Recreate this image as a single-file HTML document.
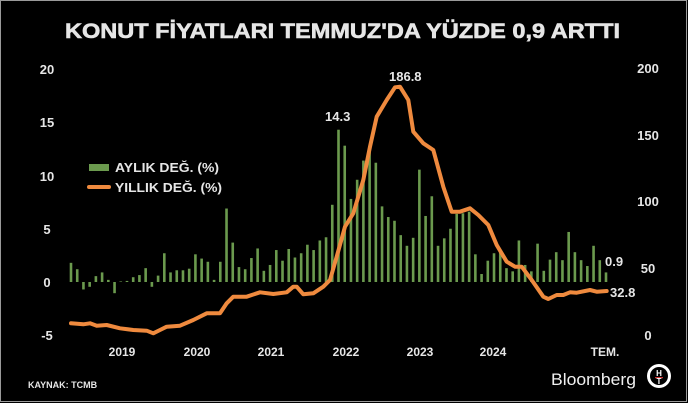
<!DOCTYPE html>
<html><head><meta charset="utf-8"><style>
html,body{margin:0;padding:0;background:#000;}
body{width:688px;height:403px;overflow:hidden;}
svg{display:block;font-family:"Liberation Sans",sans-serif;font-weight:bold;}
</style></head><body>
<svg id="s" width="688" height="403" viewBox="0 0 688 403">
<rect x="0.5" y="0.5" width="686" height="401" fill="#000" stroke="#9a9a9a" stroke-width="1"/>
<text x="65" y="38" font-size="21" fill="#e6e6e6" textLength="555" lengthAdjust="spacingAndGlyphs" stroke="#e6e6e6" stroke-width="0.6">KONUT FİYATLARI TEMMUZ'DA YÜZDE 0,9 ARTTI</text>
<g font-size="13" fill="#e6e6e6" text-anchor="middle">
<text x="47" y="74">20</text><text x="47" y="127">15</text><text x="47" y="181">10</text>
<text x="47" y="234">5</text><text x="47" y="287">0</text><text x="47" y="340">-5</text>
<text x="648" y="73">200</text><text x="648" y="140">150</text><text x="648" y="206">100</text>
<text x="648" y="273">50</text><text x="648" y="340">0</text>
</g>
<g font-size="12" fill="#e6e6e6" text-anchor="middle">
<text x="122" y="356">2019</text><text x="197" y="356">2020</text><text x="271" y="356">2021</text>
<text x="346" y="356">2022</text><text x="420" y="356">2023</text><text x="493" y="356">2024</text>
<text x="605" y="356">TEM.</text>
</g>
<g id="bars" fill="#6b9a4e"></g>
<polyline fill="none" stroke="#ef8a3e" stroke-width="4" stroke-linejoin="round" stroke-linecap="round" points="71,323.3 83.3,324.3 90,323.3 96.7,325.7 106.7,325 120,328.3 133.3,330 146.7,330.7 153.3,333.3 160,330 166.7,326.7 180,325.7 193.3,320 206.7,313.3 220,313.3 226.7,303.3 233.3,296.7 246.7,296.7 260,292.3 273.3,294 286.7,292.3 293.3,286.7 296.7,286.7 303.3,294.3 313.3,293.3 323.3,286.7 330,280 336.7,256.7 345,226.7 353.3,213.3 363.3,180 370,146.7 376.7,116.7 386.7,100 395,87.3 400,86.7 408.3,100 413.3,131.7 423.3,143.3 433.3,150 443.3,186.7 451.7,211.7 460,211.7 470,208.3 478.3,215 488.3,225 496.7,245 506.7,261.7 515,266.7 521.7,266.7 531.7,280 543.3,296.7 548.3,299 556.7,295 563.3,295 570,292.3 576.7,292.7 590,290 596.7,291.7 606.7,291"/>
<g font-size="13" fill="#e6e6e6">
<text x="325" y="121">14.3</text>
<text x="389" y="81">186.8</text>
<text x="605" y="266">0.9</text>
<text x="610" y="297">32.8</text>
</g>
<rect x="89" y="164" width="20" height="7" fill="#6b9a4e"/>
<line x1="89" y1="187" x2="109" y2="187" stroke="#ef8a3e" stroke-width="4" stroke-linecap="round"/>
<g font-size="13" fill="#e6e6e6">
<text x="115" y="172" textLength="104" lengthAdjust="spacingAndGlyphs">AYLIK DEĞ. (%)</text>
<text x="115" y="192" textLength="107" lengthAdjust="spacingAndGlyphs">YILLIK DEĞ. (%)</text>
</g>
<text x="28" y="388" font-size="9" fill="#e6e6e6">KAYNAK: TCMB</text>
<text x="551" y="385" font-size="17" font-weight="normal" fill="#f0f0f0" textLength="85" lengthAdjust="spacingAndGlyphs">Bloomberg</text>
<circle cx="659" cy="376" r="12" fill="#fff"/>
<circle cx="659" cy="376" r="9" fill="#000"/>
<text x="659" y="376" font-size="8" fill="#fff" text-anchor="middle">H</text>
<rect x="655" y="377" width="8" height="1.2" fill="#c33"/>
<text x="659" y="384" font-size="8" fill="#fff" text-anchor="middle">T</text>
</svg>
<script>
var v=[1.8,1.2,-0.7,-0.45,0.55,0.9,0.2,-1.05,0.05,0.1,0.45,0.65,1.3,-0.45,0.6,2.7,0.9,1.1,1.1,1.25,2.6,2.2,1.9,0.2,1.9,6.9,3.7,1.4,1.2,2.25,3.15,1.05,1.6,3.0,2.0,3.1,2.3,2.7,3.5,3.0,3.9,4.2,
7.25,14.3,12.8,7.8,9.6,11.4,12.4,11.2,7.1,6.1,5.75,4.4,3.4,4.15,10.55,6.2,8.05,3.4,4.1,5.0,6.4,6.45,6.6,2.6,0.75,2.0,2.7,3.0,1.3,1.0,3.9,1.6,1.0,3.6,1.05,2.1,2.8,2.05,4.7,2.8,2.05,1.5,3.4,2.05,0.9];
var g=document.getElementById('bars'),ns='http://www.w3.org/2000/svg';
var step=(606-71)/(v.length-1);
for(var i=0;i<v.length;i++){var r=document.createElementNS(ns,'rect');var x=71+i*step-1.3;var h=v[i]*10.65;
r.setAttribute('x',x);r.setAttribute('width',2.6);
if(h>=0){r.setAttribute('y',282-h);r.setAttribute('height',Math.max(h,0.5));}else{r.setAttribute('y',282);r.setAttribute('height',-h);}
g.appendChild(r);}
</script>
</body></html>
